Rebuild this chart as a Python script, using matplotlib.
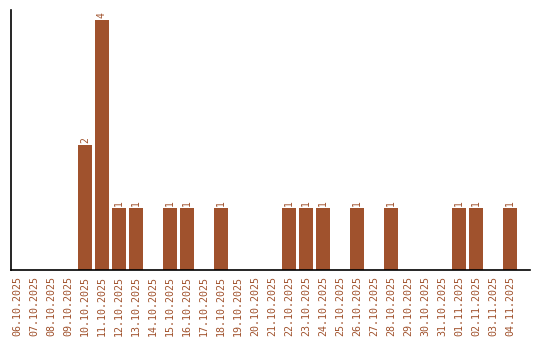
import matplotlib
matplotlib.use("Agg")
import matplotlib.pyplot as plt

dates = ["06.10.2025", "07.10.2025", "08.10.2025", "09.10.2025", "10.10.2025",
         "11.10.2025", "12.10.2025", "13.10.2025", "14.10.2025", "15.10.2025",
         "16.10.2025", "17.10.2025", "18.10.2025", "19.10.2025", "20.10.2025",
         "21.10.2025", "22.10.2025", "23.10.2025", "24.10.2025", "25.10.2025",
         "26.10.2025", "27.10.2025", "28.10.2025", "29.10.2025", "30.10.2025",
         "31.10.2025", "01.11.2025", "02.11.2025", "03.11.2025", "04.11.2025"]
counts = [0, 0, 0, 0, 2, 4, 1, 1, 0, 1, 1, 0, 1, 0, 0,
          0, 1, 1, 1, 0, 1, 0, 1, 0, 0, 0, 1, 1, 0, 1]

color = "#A0522D"
fig = plt.figure(figsize=(5.4, 3.4), dpi=100)
ax = fig.add_axes([11/540, 70/340, 519/540, 260/340])
x = list(range(len(dates)))
ax.bar(x, counts, width=14/17, color=color)
for xi, c in zip(x, counts):
    if c > 0:
        ax.text(xi, c + 0.03, str(c), rotation=90, ha="center", va="bottom",
                color=color, family="DejaVu Sans Mono", fontsize=7)
ax.set_xlim(-0.353, 30.18)
ax.set_ylim(0, 4.16)
ax.set_xticks(x)
ax.set_xticklabels(dates, rotation=90, color=color, family="DejaVu Sans Mono", fontsize=7.2)
ax.tick_params(axis="x", length=0, pad=4)
ax.set_yticks([])
for s in ["top", "right"]:
    ax.spines[s].set_visible(False)
for s in ["left", "bottom"]:
    ax.spines[s].set_linewidth(1.2)
fig.savefig("out.png", dpi=100)
